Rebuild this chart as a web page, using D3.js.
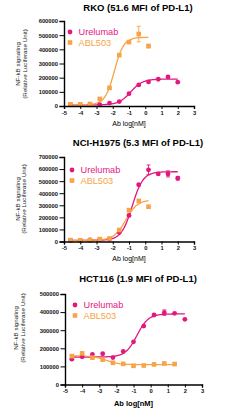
<!DOCTYPE html>
<html>
<head>
<meta charset="utf-8">
<script src="https://cdn.jsdelivr.net/npm/d3@7"></script>
<style>
  body { margin: 0; background: #fff; }
  svg { display: block; font-family: "Liberation Sans", Arial, sans-serif; }
</style>
</head>
<body>
<svg id="chart" width="244" height="408"></svg>
<script>
// doses (log nM), 4-fold dilutions from 100 nM
const logDose = [-4.6, -4, -3.4, -2.8, -2.2, -1.6, -1, -0.4, 0.2, 0.8, 1.4, 2];
const seriesNames = ['Urelumab', 'ABL503'];
const panelTitles = ['RKO (51.6 MFI of PD-L1)', 'NCI-H1975 (5.3 MFI of PD-L1)', 'HCT116 (1.9 MFI of PD-L1)'];
const xTicks = [-5, -4, -3, -2, -1, 0, 1, 2, 3];
const yTicksRko = [0, 100000, 200000, 300000, 400000, 500000, 600000];
const yTicksH1975 = [0, 100000, 200000, 300000, 400000, 500000, 600000, 700000];
const yTicksHct116 = [0, 100000, 200000, 300000, 400000, 500000];

// RKO
const rkoUrelumab    = [8000, 8000, 9000, 10000, 21000, 31000, 87000, 149000, 170000, 189000, 206000, 168000];
const rkoUrelumabErr = [0, 0, 0, 0, 0, 0, 0, 0, 0, 0, 9000, 0];
const rkoAbl503      = [12000, 12000, 14000, 50000, 128000, 359000, 451000, 508000, 423000];
const rkoAbl503Err   = [0, 0, 0, 0, 6000, 0, 0, 55000, 12000];
// fit: bottom, top, logEC50, hill
const rkoUrelumabFit = [8000, 190000, -0.9, 1.2];
const rkoAbl503Fit   = [9000, 485000, -1.9, 1.5];

// NCI-H1975
const h1975Urelumab    = [10000, 10000, 13000, 17000, 20000, 76000, 216000, 470000, 594000, 560000, 560000, 524000];
const h1975UrelumabErr = [0, 0, 0, 0, 0, 0, 10000, 8000, 40000, 0, 25000, 15000];
const h1975Abl503      = [12000, 10000, 12000, 20000, 25000, 95000, 260000, 336000, 288000];
const h1975Abl503Err   = [0, 0, 0, 0, 0, 0, 0, 0, 0];
const h1975UrelumabFit = [10000, 578000, -0.8, 1.3];
const h1975Abl503Fit   = [10000, 345000, -1.2, 1.2];

// HCT116
const hct116Urelumab    = [140000, 153000, 166000, 170000, 149000, 183000, 236000, 323000, 384000, 397000, 393000, 360000];
const hct116UrelumabErr = [0, 0, 0, 0, 0, 0, 0, 0, 0, 15000, 0, 0];
const hct116Abl503      = [157000, 172000, 148000, 137000, 120000, 114000, 103000, 105000, 111000, 116000, 113000];
const hct116Abl503Err   = [0, 0, 0, 0, 0, 0, 0, 0, 0, 0, 0];
const hct116UrelumabFit = [152000, 390000, -0.8, 1.3];
const hct116Abl503Fit   = [158000, 110000, -2.6, 1.2];

const colors = ['#e2187f', '#f8a346'];

const panels = [
  {title: panelTitles[0], yTicks: yTicksRko,
   series: [[rkoUrelumab, rkoUrelumabErr, rkoUrelumabFit], [rkoAbl503, rkoAbl503Err, rkoAbl503Fit]],
   titleY: 10.5, xr: [64, 194], yr: [106, 21], labelY: 125.5, labelBold: false, ylabX: 20, ylabY: 64, legX: 70, legY: 32},
  {title: panelTitles[1], yTicks: yTicksH1975,
   series: [[h1975Urelumab, h1975UrelumabErr, h1975UrelumabFit], [h1975Abl503, h1975Abl503Err, h1975Abl503Fit]],
   titleY: 145.5, xr: [64, 194], yr: [241.5, 157], labelY: 261, labelBold: false, ylabX: 19.5, ylabY: 199, legX: 72, legY: 170},
  {title: panelTitles[2], yTicks: yTicksHct116,
   series: [[hct116Urelumab, hct116UrelumabErr, hct116UrelumabFit], [hct116Abl503, hct116Abl503Err, hct116Abl503Fit]],
   titleY: 281.5, xr: [65, 202], yr: [384.5, 294], labelY: 405.5, labelBold: true, ylabX: 18, ylabY: 328, legX: 75, legY: 305}
];

const svg = d3.select('#chart');

const logistic = (p, x) => p[0] + (p[1] - p[0]) / (1 + Math.pow(10, (p[2] - x) * p[3]));

panels.forEach(p => {
  const g = svg.append('g');
  const x = d3.scaleLinear().domain([-5, 3]).range(p.xr);
  const y = d3.scaleLinear().domain([0, d3.max(p.yTicks)]).range(p.yr);

  g.append('text')
    .attr('x', 138).attr('y', p.titleY)
    .attr('text-anchor', 'middle')
    .attr('font-size', 9.5).attr('font-weight', 'bold')
    .text(p.title);

  // curves
  p.series.forEach((s, i) => {
    const xs = logDose.slice(0, s[0].length);
    const pts = d3.range(xs[0], xs[xs.length - 1] + 0.001, 0.05).map(v => [v, logistic(s[2], v)]);
    g.append('path')
      .attr('d', d3.line().x(d => x(d[0])).y(d => y(d[1])).curve(d3.curveBasis)(pts))
      .attr('fill', 'none')
      .attr('stroke', colors[i])
      .attr('stroke-width', 1.3);
  });

  // error bars and points
  p.series.forEach((s, i) => {
    const pts = s[0].map((v, j) => ({x: logDose[j], y: v, e: s[1][j]}));
    const eb = g.append('g').attr('stroke', colors[i]).attr('stroke-width', 0.9);
    pts.filter(d => d.e > 0).forEach(d => {
      eb.append('line').attr('x1', x(d.x)).attr('x2', x(d.x)).attr('y1', y(d.y - d.e)).attr('y2', y(d.y + d.e));
      eb.append('line').attr('x1', x(d.x) - 2).attr('x2', x(d.x) + 2).attr('y1', y(d.y + d.e)).attr('y2', y(d.y + d.e));
      eb.append('line').attr('x1', x(d.x) - 2).attr('x2', x(d.x) + 2).attr('y1', y(d.y - d.e)).attr('y2', y(d.y - d.e));
    });
    if (i === 0) {
      g.selectAll(null).data(pts).enter().append('circle')
        .attr('cx', d => x(d.x)).attr('cy', d => y(d.y)).attr('r', 2.4)
        .attr('fill', colors[i]);
    } else {
      g.selectAll(null).data(pts).enter().append('rect')
        .attr('x', d => x(d.x) - 2.3).attr('y', d => y(d.y) - 2.3)
        .attr('width', 4.6).attr('height', 4.6)
        .attr('fill', colors[i]);
    }
  });

  // axes
  const yAxis = g.append('g')
    .attr('transform', `translate(${p.xr[0]},0)`)
    .call(d3.axisLeft(y).tickValues(p.yTicks).tickSize(4.5).tickPadding(1.5).tickFormat(d => String(d)));
  const xAxis = g.append('g')
    .attr('transform', `translate(0,${p.yr[0]})`)
    .call(d3.axisBottom(x).tickValues(xTicks).tickSize(3).tickPadding(1.5).tickFormat(d => String(d)));
  [yAxis, xAxis].forEach(a => {
    a.select('.domain').attr('stroke-width', 1.4).attr('stroke', '#000');
    a.selectAll('.tick line').attr('stroke-width', 1).attr('stroke', '#000');
    a.selectAll('.tick text').attr('font-size', 5.8).attr('font-weight', 'bold')
      .attr('font-family', '"Liberation Sans", Arial, sans-serif').attr('fill', '#111');
  });

  g.append('text')
    .attr('x', (p.xr[0] + p.xr[1]) / 2).attr('y', p.labelY)
    .attr('text-anchor', 'middle').attr('font-size', p.labelBold ? 7.5 : 7)
    .attr('font-weight', p.labelBold ? 'bold' : 'normal')
    .text('Ab log[nM]');

  const yl = g.append('text')
    .attr('transform', `translate(${p.ylabX},${p.ylabY}) rotate(-90)`)
    .attr('text-anchor', 'middle').attr('font-size', 6.2).attr('fill', '#222');
  yl.append('tspan').attr('x', 0).attr('dy', 0).text('NF-kB signaling');
  yl.append('tspan').attr('x', 0).attr('dy', 6.5).text('(Relative Luciferase Unit)');

  // legend
  seriesNames.forEach((name, i) => {
    const ly = p.legY + i * 10.5;
    if (i === 0) {
      g.append('circle').attr('cx', p.legX).attr('cy', ly).attr('r', 2.4).attr('fill', colors[i]);
    } else {
      g.append('rect').attr('x', p.legX - 2.3).attr('y', ly - 2.3).attr('width', 4.6).attr('height', 4.6).attr('fill', colors[i]);
    }
    g.append('text')
      .attr('x', p.legX + 8.5).attr('y', ly + 3.3)
      .attr('font-size', 9.2).attr('fill', colors[i])
      .text(name);
  });
});
</script>
</body>
</html>
